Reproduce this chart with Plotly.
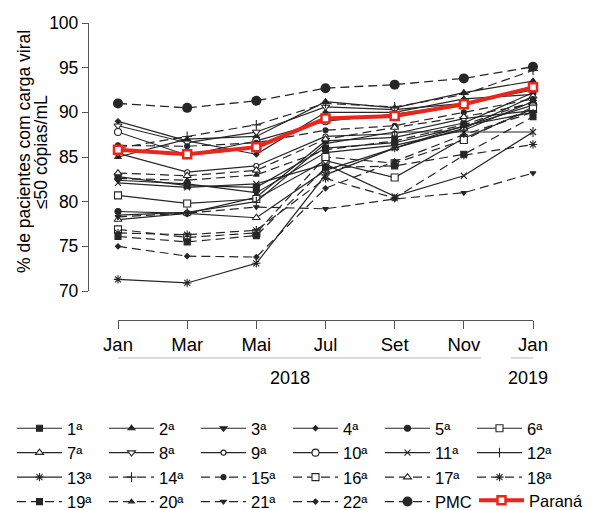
import plotly.graph_objects as go

months = [0, 2, 4, 6, 8, 10, 12]
month_labels = ["Jan", "Mar", "Mai", "Jul", "Set", "Nov", "Jan"]
year_labels = ["2018", "2019"]
y_ticks = [70, 75, 80, 85, 90, 95, 100]

names = ["1ª", "2ª", "3ª", "4ª", "5ª", "6ª", "7ª", "8ª", "9ª", "10ª", "11ª",
         "12ª", "13ª", "14ª", "15ª", "16ª", "17ª", "18ª", "19ª", "20ª", "21ª", "22ª"]

r01 = [82.8, 81.8, 81.6, 86.0, 86.6, 88.4, 90.8]
r02 = [85.0, 87.0, 87.3, 91.2, 90.5, 92.2, 93.5]
r03 = [82.4, 82.0, 81.0, 85.5, 86.3, 88.0, 91.2]
r04 = [89.0, 86.8, 85.3, 90.0, 90.0, 91.5, 92.0]
r05 = [78.9, 78.7, 80.5, 86.8, 87.2, 88.8, 92.2]
r06 = [80.7, 79.8, 80.3, 84.6, 82.7, 87.1, 90.4]
r07 = [78.0, 78.7, 78.2, 83.5, 86.0, 88.2, 91.8]
r08 = [88.5, 86.6, 87.8, 90.6, 90.3, 91.0, 92.5]
r09 = [85.4, 83.3, 84.0, 87.3, 87.6, 89.3, 90.2]
r10 = [87.8, 85.2, 86.8, 89.0, 89.8, 90.9, 92.8]
r11 = [82.1, 81.6, 82.0, 84.2, 80.6, 82.9, 87.8]
r12 = [78.5, 78.8, 80.0, 86.5, 87.8, 87.8, 87.8]
r13 = [71.3, 70.9, 73.1, 83.0, 86.0, 88.5, 90.0]
r14 = [86.0, 87.3, 88.6, 91.0, 90.6, 92.0, 94.7]
r15 = [86.3, 86.2, 86.6, 88.0, 88.5, 90.0, 91.5]
r16 = [76.9, 76.0, 76.5, 85.0, 84.3, 86.9, 90.6]
r17 = [83.2, 82.9, 83.5, 87.0, 88.3, 89.5, 91.0]
r18 = [76.5, 76.3, 76.8, 82.6, 80.4, 85.2, 86.4]
r19 = [76.1, 75.5, 76.2, 83.8, 84.0, 85.3, 89.5]
r20 = [82.6, 82.4, 83.0, 85.8, 86.8, 88.6, 91.2]
r21 = [78.3, 78.7, 79.4, 79.2, 80.3, 81.0, 83.2]
r22 = [75.0, 73.9, 73.8, 81.5, 84.5, 87.5, 90.0]
pmc = [91.0, 90.5, 91.3, 92.7, 93.1, 93.8, 95.1]
parana = [85.8, 85.3, 86.1, 89.3, 89.6, 90.9, 92.8]

regions = [r01, r02, r03, r04, r05, r06, r07, r08, r09, r10, r11,
           r12, r13, r14, r15, r16, r17, r18, r19, r20, r21, r22]

INK = "#262626"
RED = "#e8261d"
# (symbol, size, fill)
styles = [
    ("square", 6, INK), ("triangle-up", 6, INK), ("triangle-down", 6, INK),
    ("diamond", 4, INK), ("circle", 6, INK), ("square", 7, "white"),
    ("triangle-up", 7, "white"), ("triangle-down", 7, "white"),
    ("circle", 5, "white"), ("circle", 7, "white"), ("x-thin", 6, INK),
    ("line-ns", 7, INK), ("asterisk", 7, INK), ("cross-thin", 7, INK),
    ("circle", 5, INK), ("square", 7, "white"), ("triangle-up", 7, "white"),
    ("asterisk", 7, INK), ("square", 6, INK), ("triangle-up", 5, INK),
    ("triangle-down", 5, INK), ("diamond", 4, INK),
]

fig = go.Figure()
for i, (nm, vals) in enumerate(zip(names, regions)):
    sym, sz, fill = styles[i]
    dashed = i >= 13
    fig.add_trace(go.Scatter(
        x=months, y=vals, name=nm, mode="lines+markers", cliponaxis=False,
        line=dict(color=INK, width=1.2, dash="9px,5px" if dashed else "solid"),
        marker=dict(symbol=sym, size=sz, color=fill,
                    line=dict(color=INK, width=1.1)),
    ))

fig.add_trace(go.Scatter(
    x=months, y=pmc, name="PMC", mode="lines+markers", cliponaxis=False,
    line=dict(color=INK, width=1.3, dash="9px,5px"),
    marker=dict(symbol="circle", size=10, color=INK),
))
fig.add_trace(go.Scatter(
    x=months, y=parana, name="Paraná", mode="lines+markers", cliponaxis=False,
    legend="legend2",
    line=dict(color=RED, width=4),
    marker=dict(symbol="square", size=8, color="white",
                line=dict(color=RED, width=2.5)),
))

# page body margin offsets the figure by 8px; work in screen pixels
OFF = 8
W, H = 591, 510
def px_x(p): return (p - OFF) / W
def px_y(p): return (H - (p - OFF)) / H

shapes = [
    dict(type="line", xref="x", yref="paper", x0=-0.46, x1=10.5,
         y0=px_y(358), y1=px_y(358), line=dict(color="#cfcfcf", width=1.5)),
    dict(type="line", xref="x", yref="paper", x0=11.36, x1=12.43,
         y0=px_y(358), y1=px_y(358), line=dict(color="#cfcfcf", width=1.5)),
]
annotations = [
    dict(text=year_labels[0], x=4.97, xref="x", y=px_y(378), yref="paper",
         showarrow=False, font=dict(size=18, color="black"), yanchor="middle"),
    dict(text=year_labels[1], x=11.85, xref="x", y=px_y(378), yref="paper",
         showarrow=False, font=dict(size=18, color="black"), yanchor="middle"),
    dict(text="% de pacientes com carga viral", x=px_x(24), y=px_y(152),
         xref="paper", yref="paper", textangle=-90, showarrow=False,
         font=dict(size=17.5, color="black"), xanchor="center", yanchor="middle"),
    dict(text="≤50 cópias/mL", x=px_x(41), y=px_y(152),
         xref="paper", yref="paper", textangle=-90, showarrow=False,
         font=dict(size=17.5, color="black"), xanchor="center", yanchor="middle"),
]

legend_common = dict(orientation="h", xanchor="left", yanchor="top",
                     font=dict(size=16.5), itemwidth=45, tracegroupgap=0,
                     bgcolor="rgba(0,0,0,0)")

fig.update_layout(
    width=W, height=H, margin=dict(l=0, r=0, t=0, b=0, autoexpand=False),
    paper_bgcolor="white", plot_bgcolor="white",
    font=dict(family="Liberation Sans, Arial, sans-serif", color="black"),
    showlegend=True,
    xaxis=dict(domain=[px_x(118), px_x(533)], range=[0, 12], anchor="free",
               position=px_y(320), tickvals=months, ticktext=month_labels,
               ticks="outside", ticklen=8, tickwidth=1.3, tickcolor="#555",
               showline=True, linecolor="#555", linewidth=1.3,
               showgrid=False, zeroline=False, tickfont=dict(size=18.5)),
    yaxis=dict(domain=[px_y(291), px_y(23)], range=[70, 100], anchor="free",
               position=px_x(88), tickvals=y_ticks, ticks="outside", ticklen=6,
               tickwidth=1.3, tickcolor="#555", showline=True, linecolor="#555",
               linewidth=1.3, showgrid=False, zeroline=False,
               tickfont=dict(size=17.5)),
    legend=dict(x=px_x(12), y=px_y(411), entrywidth=32,
                entrywidthmode="pixels", **legend_common),
    legend2=dict(x=px_x(474), y=px_y(483), **legend_common),
    shapes=shapes, annotations=annotations,
)

fig.write_html("out.html")
